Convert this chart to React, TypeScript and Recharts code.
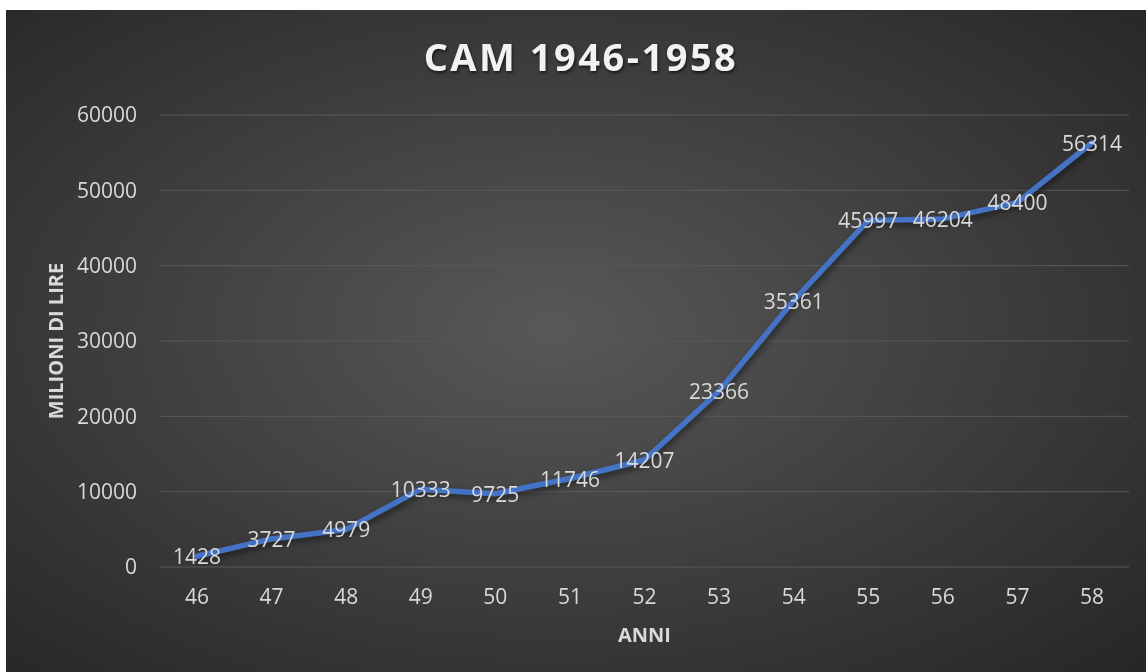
import { LineChart, Line, XAxis, YAxis, CartesianGrid, LabelList, Label } from "recharts";

const years = ["46", "47", "48", "49", "50", "51", "52", "53", "54", "55", "56", "57", "58"];
const values = [1428, 3727, 4979, 10333, 9725, 11746, 14207, 23366, 35361, 45997, 46204, 48400, 56314];
const yTicks = [0, 10000, 20000, 30000, 40000, 50000, 60000];

const data = years.map((anno, i) => ({ anno, valore: values[i] }));

const FONT = "'Open Sans', 'Noto Sans', sans-serif";
const TEXT = "#d9d9d9";

const PointLabel = (props: any) => {
  const { x, y, value } = props;
  return (
    <text
      x={x}
      y={y}
      textAnchor="middle"
      dominantBaseline="central"
      fill={TEXT}
      fontSize={21}
      fontFamily={FONT}
    >
      {value}
    </text>
  );
};

const App = () => {
  return (
    <div
      style={{
        position: "fixed",
        left: 6,
        top: 10,
        width: 1140,
        height: 662,
        background: "radial-gradient(ellipse at 48% 48%, #585858 0%, #3c3c3c 55%, #262626 100%)",
        fontFamily: FONT,
      }}
    >
      <div
        style={{
          position: "absolute",
          left: 10,
          right: 0,
          top: 22,
          textAlign: "center",
          color: "#f2f2f2",
          fontSize: 38,
          fontWeight: 700,
          letterSpacing: 2.5,
          lineHeight: "48px",
          textShadow: "1px 2px 3px rgba(0,0,0,0.6)",
        }}
      >
        CAM 1946-1958
      </div>
      <LineChart
        width={1140}
        height={662}
        data={data}
        margin={{ top: 105, right: 17, left: 0, bottom: 0 }}
        style={{ position: "absolute", left: 0, top: 0 }}
      >
        <CartesianGrid vertical={false} stroke="#595959" strokeWidth={1} />
        <XAxis
          dataKey="anno"
          height={105}
          padding={{ left: 37, right: 37 }}
          axisLine={false}
          tickLine={false}
          tickSize={0}
          tickMargin={22}
          tick={{ fill: TEXT, fontSize: 21, fontFamily: FONT }}
        >
          <Label
            content={({ viewBox }: any) => (
              <text
                x={viewBox.x + viewBox.width / 2}
                y={632}
                textAnchor="middle"
                fill={TEXT}
                fontSize={20}
                fontWeight={700}
                fontFamily={FONT}
              >
                ANNI
              </text>
            )}
          />
        </XAxis>
        <YAxis
          width={154}
          domain={[0, 60000]}
          ticks={yTicks}
          axisLine={false}
          tickLine={false}
          tickSize={0}
          tickMargin={23}
          tick={{ fill: TEXT, fontSize: 21, fontFamily: FONT }}
        >
          <Label
            content={({ viewBox }: any) => {
              const cy = viewBox.y + viewBox.height / 2;
              return (
                <text
                  x={49}
                  y={cy}
                  transform={`rotate(-90, 49, ${cy})`}
                  textAnchor="middle"
                  dominantBaseline="central"
                  fill={TEXT}
                  fontSize={20}
                  fontWeight={700}
                  fontFamily={FONT}
                >
                  MILIONI DI LIRE
                </text>
              );
            }}
          />
        </YAxis>
        <Line
          type="linear"
          dataKey="valore"
          stroke="#4472C4"
          strokeWidth={5.5}
          strokeLinejoin="round"
          strokeLinecap="round"
          dot={false}
          activeDot={false}
          isAnimationActive={false}
          style={{ filter: "drop-shadow(2px 3px 3px rgba(0,0,0,0.5))" }}
        >
          <LabelList dataKey="valore" content={PointLabel} />
        </Line>
      </LineChart>
    </div>
  );
};

export default App;
